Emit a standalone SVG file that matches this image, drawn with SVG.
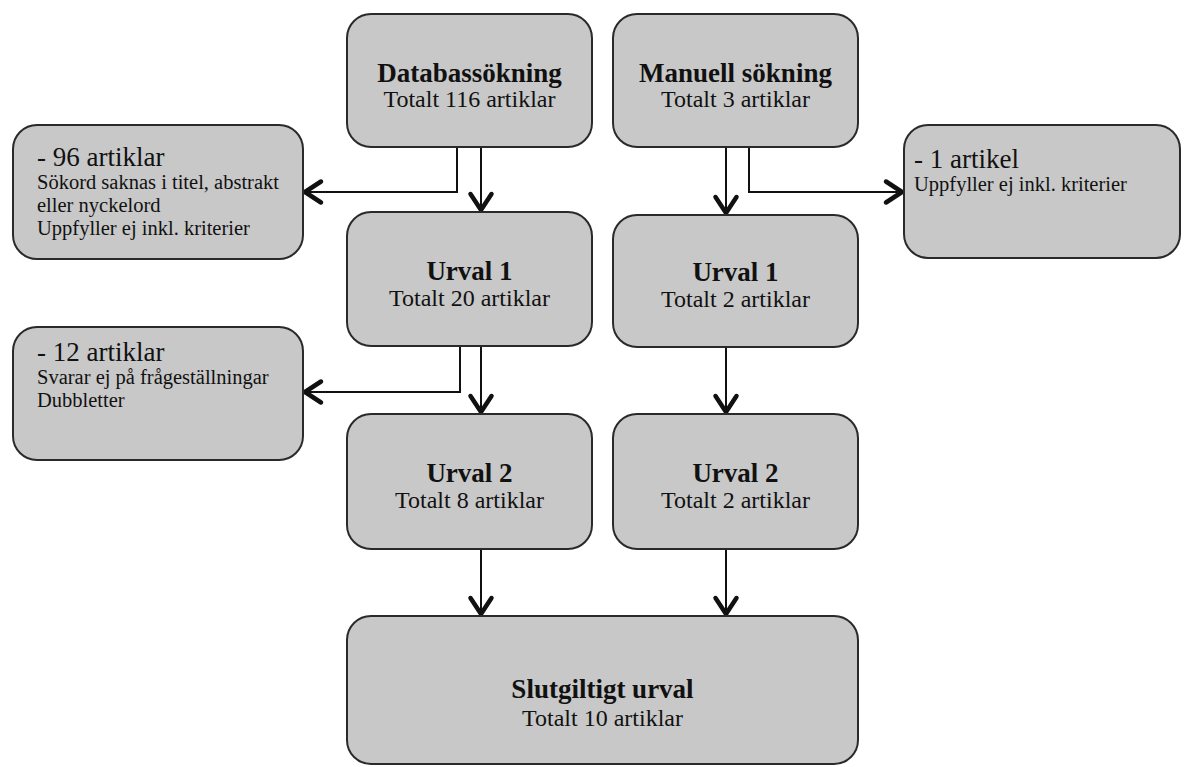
<svg xmlns="http://www.w3.org/2000/svg" width="1187" height="767" viewBox="0 0 1187 767">
<style>
.box{fill:#c8c8c8;stroke:#2a2a2a;stroke-width:2}
.t{font-family:"Liberation Serif","Times New Roman",serif;fill:#111}
.h{font-weight:bold;font-size:27px;text-anchor:middle}
.s{font-size:24px;text-anchor:middle}
.sh{font-size:27px}
.sm{font-size:20.5px}
.c{fill:none;stroke:#111;stroke-width:2}
</style>
<defs>
<marker id="ar" markerUnits="userSpaceOnUse" markerWidth="30" markerHeight="30" viewBox="-22 -15 26 30" refX="1" refY="0" orient="auto">
<path d="M-16,-10.5 L0,0 L-16,10.5" fill="none" stroke="#111" stroke-width="4.5" stroke-linecap="round" stroke-linejoin="round"/>
</marker>
</defs>
<rect width="1187" height="767" fill="#fff"/>
<g id="connectors">
<path class="c" d="M457,147 V192 H304" marker-end="url(#ar)"/>
<path class="c" d="M481,147 V211" marker-end="url(#ar)"/>
<path class="c" d="M726,147 V214" marker-end="url(#ar)"/>
<path class="c" d="M749,147 V192 H903" marker-end="url(#ar)"/>
<path class="c" d="M460,346 V392 H304" marker-end="url(#ar)"/>
<path class="c" d="M481,346 V413" marker-end="url(#ar)"/>
<path class="c" d="M726,347 V413" marker-end="url(#ar)"/>
<path class="c" d="M481,549 V615" marker-end="url(#ar)"/>
<path class="c" d="M726,549 V615" marker-end="url(#ar)"/>
</g>
<g id="databas">
<rect class="box" x="347" y="14" width="245" height="133" rx="24"/>
<text class="t h" x="469.5" y="82">Databassökning</text>
<text class="t s" x="469.5" y="107">Totalt 116 artiklar</text>
</g>
<g id="manuell">
<rect class="box" x="613" y="14" width="245" height="133" rx="24"/>
<text class="t h" x="735.5" y="82">Manuell sökning</text>
<text class="t s" x="735.5" y="107">Totalt 3 artiklar</text>
</g>
<g id="excl96">
<rect class="box" x="13" y="125" width="290" height="134" rx="24"/>
<text class="t sh" x="37" y="166">- 96 artiklar</text>
<text class="t sm" x="37" y="189">Sökord saknas i titel, abstrakt</text>
<text class="t sm" x="37" y="212">eller nyckelord</text>
<text class="t sm" x="37" y="235">Uppfyller ej inkl. kriterier</text>
</g>
<g id="excl1">
<rect class="box" x="904" y="125" width="276" height="133" rx="24"/>
<text class="t sh" x="914" y="168">- 1 artikel</text>
<text class="t sm" x="914" y="191">Uppfyller ej inkl. kriterier</text>
</g>
<g id="urval1L">
<rect class="box" x="347" y="212" width="245" height="134" rx="24"/>
<text class="t h" x="469.5" y="280">Urval 1</text>
<text class="t s" x="469.5" y="306">Totalt 20 artiklar</text>
</g>
<g id="urval1R">
<rect class="box" x="613" y="215" width="245" height="132" rx="24"/>
<text class="t h" x="735.5" y="281">Urval 1</text>
<text class="t s" x="735.5" y="307">Totalt 2 artiklar</text>
</g>
<g id="excl12">
<rect class="box" x="13" y="327" width="290" height="133" rx="24"/>
<text class="t sh" x="37" y="361">- 12 artiklar</text>
<text class="t sm" x="37" y="384">Svarar ej på frågeställningar</text>
<text class="t sm" x="37" y="407">Dubbletter</text>
</g>
<g id="urval2L">
<rect class="box" x="347" y="414" width="245" height="135" rx="24"/>
<text class="t h" x="469.5" y="482">Urval 2</text>
<text class="t s" x="469.5" y="508">Totalt 8 artiklar</text>
</g>
<g id="urval2R">
<rect class="box" x="613" y="414" width="245" height="135" rx="24"/>
<text class="t h" x="735.5" y="482">Urval 2</text>
<text class="t s" x="735.5" y="508">Totalt 2 artiklar</text>
</g>
<g id="slut">
<rect class="box" x="347" y="616" width="511" height="148" rx="24"/>
<text class="t h" x="602.5" y="698">Slutgiltigt urval</text>
<text class="t s" x="602.5" y="726">Totalt 10 artiklar</text>
</g>
</svg>
